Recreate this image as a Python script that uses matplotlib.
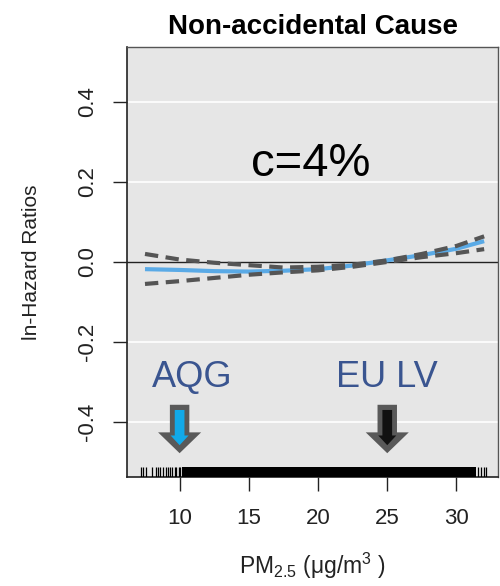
import numpy as np
import matplotlib
matplotlib.use("Agg")
import matplotlib.pyplot as plt
from matplotlib.patches import FancyArrowPatch

plt.rcParams['font.family'] = ['Liberation Sans', 'DejaVu Sans']
plt.rcParams['mathtext.fontset'] = 'custom'
plt.rcParams['mathtext.rm'] = 'Liberation Sans'
plt.rcParams['mathtext.it'] = 'Liberation Sans:italic'

# spline fit and 95% band
pm = [7.5, 10, 12.5, 15, 17.5, 20, 22.5, 25, 27.5, 30, 32]
fit = [-0.018, -0.020, -0.023, -0.024, -0.022, -0.018, -0.009, 0.004, 0.017, 0.033, 0.052]
upper = [0.020, 0.006, -0.002, -0.008, -0.014, -0.012, -0.007, 0.004, 0.020, 0.040, 0.064]
lower = [-0.055, -0.048, -0.040, -0.032, -0.026, -0.021, -0.012, 0.000, 0.012, 0.022, 0.032]

# rug of observed concentrations
rug_sparse = [7.24, 7.36, 7.55, 8.04, 8.32, 8.47, 8.61, 8.80, 8.99, 9.16, 9.33,
              9.47, 9.64, 9.76, 9.95, 10.05, 31.55, 31.8, 32.0, 32.1]
rug_dense = [10.2, 31.4]

# reference levels
limits = [10, 25]
limit_names = ['AQG', 'EU LV']
limit_colors = ['#12a9e8', '#111111']

yticks = [-0.4, -0.2, 0.0, 0.2, 0.4]
xticks = [10, 15, 20, 25, 30]

fig = plt.figure(figsize=(5, 5.86), dpi=100)
ax = fig.add_axes([0.254, 0.186, 0.742, 0.734])
ax.set_facecolor('#e6e6e6')
ax.set_xlim(6.2, 33.0)
ax.set_ylim(-0.5375, 0.5375)

for yv in yticks:
    if yv != 0:
        ax.axhline(yv, color='white', lw=1.2, zorder=1)
ax.axhline(0, color='#222222', lw=1.0, zorder=2)

ax.plot(pm, fit, color='#5aaae6', lw=3, zorder=3, solid_capstyle='butt')
ax.plot(pm, upper, color='#555555', lw=3, ls=(0, (3.2, 1.8)), zorder=4)
ax.plot(pm, lower, color='#555555', lw=3, ls=(0, (3.2, 1.8)), zorder=4)

y0 = ax.get_ylim()[0]
ax.vlines(rug_sparse, y0, y0 + 0.025, color='black', lw=0.9, zorder=5)
ax.fill_between(rug_dense, y0, y0 + 0.025, color='black', lw=0, zorder=5)

for xv, name, col in zip(limits, limit_names, limit_colors):
    outer = FancyArrowPatch((xv, -0.357), (xv, -0.478),
                            arrowstyle='simple,head_length=15,head_width=31,tail_width=14',
                            mutation_scale=1, shrinkA=0, shrinkB=0,
                            color='#595959', lw=0, zorder=6)
    ax.add_patch(outer)
    inner = FancyArrowPatch((xv, -0.370), (xv, -0.458),
                            arrowstyle='simple,head_length=7,head_width=13,tail_width=7',
                            mutation_scale=1, shrinkA=0, shrinkB=0,
                            color=col, lw=0, zorder=7)
    ax.add_patch(inner)
    ax.text(xv + 0.9 if name == 'AQG' else xv, -0.29, name, color='#3a5590',
            fontsize=26, ha='center', va='center', zorder=8)

ax.text(19.5, 0.245, 'c=4%', fontsize=34, ha='center', va='center', color='black')

ax.set_xticks(xticks)
ax.set_yticks(yticks)
ax.set_yticklabels(['-0.4', '-0.2', '0.0', '0.2', '0.4'], rotation=90, va='center')
ax.tick_params(axis='both', length=10, width=1, color='#222222', labelsize=16,
               labelcolor='#222222')
ax.tick_params(axis='x', pad=12)
ax.tick_params(axis='y', pad=11)

for side in ['left', 'bottom']:
    ax.spines[side].set_color('#222222')
    ax.spines[side].set_linewidth(1.2)
for side in ['top', 'right']:
    ax.spines[side].set_color('#555555')
    ax.spines[side].set_linewidth(1.0)

ax.set_title('Non-accidental Cause', fontsize=20, fontweight='bold', pad=9)
ax.set_ylabel('ln-Hazard Ratios', fontsize=15, color='#222222', labelpad=26)
ax.set_xlabel('PM$_{2.5}$ (\u03bcg/m$^3$ )', fontsize=16.5, color='#222222', labelpad=16)

fig.savefig('out.png', dpi=100)
